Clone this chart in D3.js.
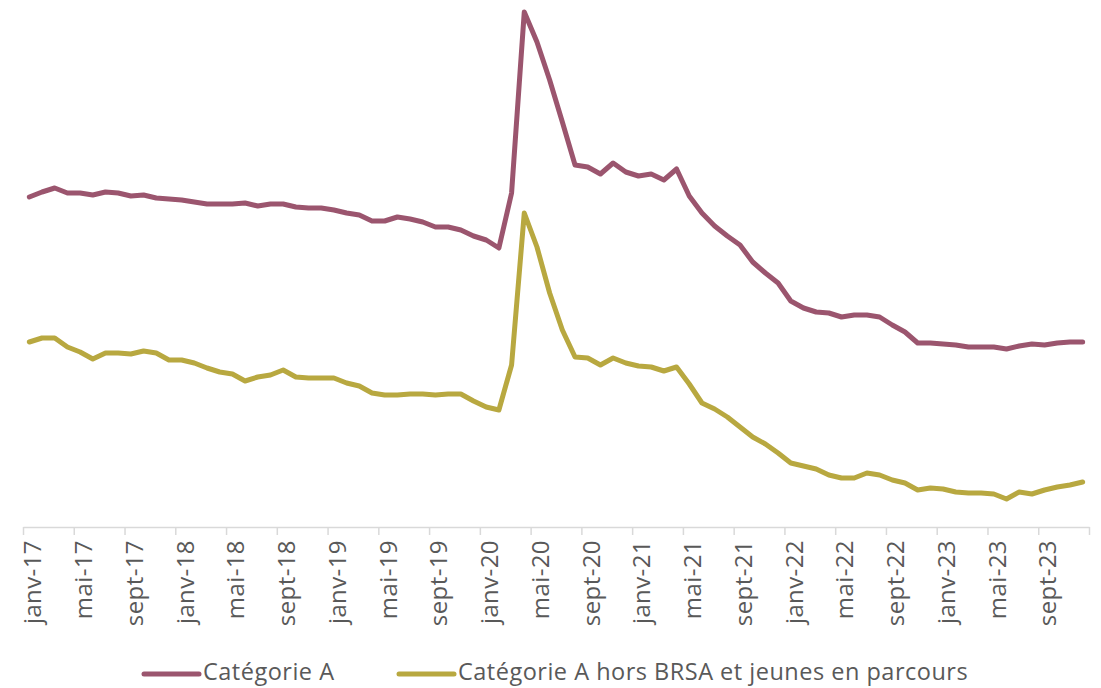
<!DOCTYPE html>
<html>
<head>
<meta charset="utf-8">
<script src="https://cdn.jsdelivr.net/npm/d3@7"></script>
<style>
  html, body { margin: 0; padding: 0; background: #ffffff; }
  svg { display: block; }
  text { font-family: "Open Sans", "Noto Sans", sans-serif; fill: #595959; }
</style>
</head>
<body>
<svg id="chart" width="1101" height="688"></svg>
<script>
// ---- Data (arbitrary units) ----
const monthNames = ["janv","févr","mars","avr","mai","juin","juil","août","sept","oct","nov","déc"];
const years = ["17","18","19","20","21","22","23"];
const categories = [];
years.forEach(y => monthNames.forEach(m => categories.push(m + "-" + y)));

const tickLabels = ["janv-17","mai-17","sept-17","janv-18","mai-18","sept-18","janv-19","mai-19","sept-19",
  "janv-20","mai-20","sept-20","janv-21","mai-21","sept-21","janv-22","mai-22","sept-22","janv-23","mai-23","sept-23"];

const seriesNames = ["Catégorie A", "Catégorie A hors BRSA et jeunes en parcours"];

const categorieA = [
  330,335,339,334,334,332,335,334,331,332,329,328,
  327,325,323,323,323,324,321,323,323,320,319,319,
  317,314,312,306,306,310,308,305,300,300,297,291,
  287,279,334,515,485,447,405,362,360,353,364,355,
  351,353,347,358,331,314,301,291,282,265,254,244,
  226,219,215,214,210,212,212,210,202,195,184,184,
  183,182,180,180,180,178,181,183,182,184,185,185
];
const categorieAHors = [
  185,189,189,180,175,168,174,174,173,176,174,167,
  167,164,159,155,153,146,150,152,157,150,149,149,
  149,144,141,134,132,132,133,133,132,133,133,126,
  120,117,162,314,280,234,197,170,169,162,169,164,
  161,160,156,160,143,124,118,110,100,90,83,74,
  64,61,58,52,49,49,54,52,47,44,37,39,
  38,35,34,34,33,28,35,33,37,40,42,45
];
const seriesColors = ["#9b556e", "#b8a840"];

// ---- Layout ----
const svg = d3.select("#chart");
const plot = { left: 23, right: 1089, top: 5, bottom: 527 };

const x = d3.scaleLinear().domain([0, categories.length]).range([plot.left, plot.right]);
const y = d3.scaleLinear().domain([0, 522]).range([plot.bottom, plot.top]);

// axis: tick marks on category boundaries every 4 months
const tickIdx = d3.range(0, categories.length + 1, 4);
const axisTicks = d3.axisBottom(x).tickValues(tickIdx).tickSize(8).tickSizeOuter(0).tickFormat("");
const gAxis = svg.append("g").attr("transform", `translate(0,${plot.bottom})`).call(axisTicks);
gAxis.select(".domain").attr("stroke", "#d9d9d9").attr("stroke-width", 1.5);
gAxis.selectAll(".tick line").attr("stroke", "#d9d9d9").attr("stroke-width", 1.5);

// labels at category centres
const labelPos = tickLabels.map(l => categories.indexOf(l) + 0.5);
const axisLabels = d3.axisBottom(x).tickValues(labelPos).tickSize(0)
  .tickFormat((d, i) => tickLabels[i]);
const gLab = svg.append("g").attr("transform", `translate(0,${plot.bottom})`).call(axisLabels);
gLab.select(".domain").remove();
gLab.selectAll(".tick text")
  .attr("font-size", 24)
  .attr("letter-spacing", 0.4)
  .attr("fill", "#595959")
  .style("font-family", '"Open Sans", sans-serif')
  .attr("text-anchor", "end")
  .attr("transform", "rotate(-90)")
  .attr("x", -13)
  .attr("y", 3)
  .attr("dy", "0.35em");

// lines
const line = d3.line().x((d, i) => x(i + 0.5)).y(d => y(d));
[categorieA, categorieAHors].forEach((s, k) => {
  svg.append("path").datum(s)
    .attr("d", line)
    .attr("fill", "none")
    .attr("stroke", seriesColors[k])
    .attr("stroke-width", 5)
    .attr("stroke-linejoin", "round")
    .attr("stroke-linecap", "round");
});

// legend
const legendX = [144, 399];
const legendY = 674;
seriesNames.forEach((name, k) => {
  const g = svg.append("g");
  g.append("line")
    .attr("x1", legendX[k]).attr("x2", legendX[k] + 55)
    .attr("y1", legendY).attr("y2", legendY)
    .attr("stroke", seriesColors[k]).attr("stroke-width", 5).attr("stroke-linecap", "round");
  g.append("text")
    .attr("x", legendX[k] + 59).attr("y", legendY + 6)
    .attr("font-size", 23.5)
    .attr("letter-spacing", 0.5)
    .text(name);
});
</script>
</body>
</html>
